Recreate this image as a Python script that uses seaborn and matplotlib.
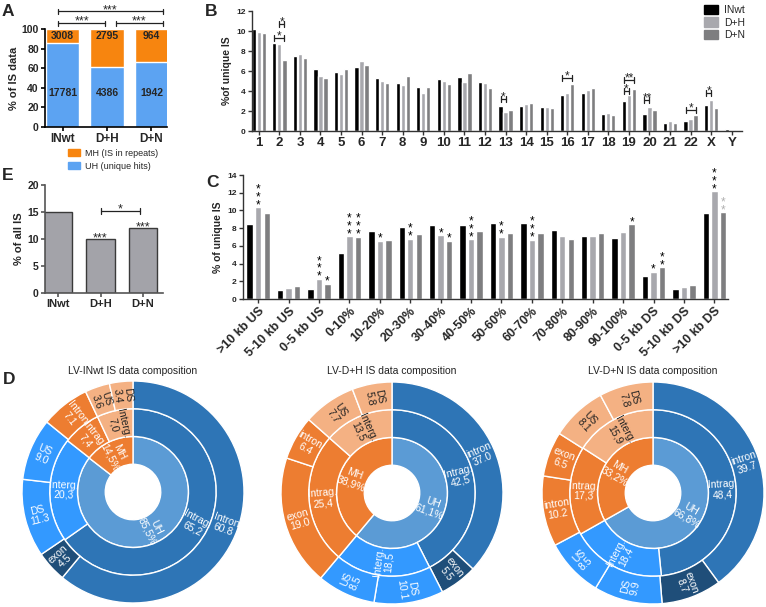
import numpy as np
import pandas as pd
import matplotlib
matplotlib.use("Agg")
import matplotlib.pyplot as plt
import seaborn as sns
from matplotlib.patches import Patch


# STYLE

sns.set_theme(style="ticks")
plt.rcParams["font.family"] = ["Liberation Sans", "DejaVu Sans"]

W, H = 766, 607

GROUPS = ["INwt", "D+H", "D+N"]
GROUP_COLORS = ["#000000", "#A8A8AD", "#7E7E80"]

ORANGE = "#F7850F"
BLUE = "#5CA3F2"

# sunburst colours
UH_INNER = "#5B9BD5"
UH_INTRAG = "#2E75B6"
UH_INTERG = "#3399FF"
UH_EXON = "#1F4E79"
MH_DARK = "#ED7D31"
MH_LIGHT = "#F4B183"


# DATA

# A: counts of IS per group
a_mh_counts = [3008, 2795, 964]
a_uh_counts = [17781, 4386, 1942]

# E: % of all IS
e_values = [15.0, 10.0, 12.0]

# B: chromosome distribution (% of unique IS)
chrom_labels = [str(i) for i in range(1, 23)] + ["X", "Y"]
b_inwt = [10.2, 8.85, 7.55, 6.2, 5.9, 6.45, 5.35, 4.85, 4.4, 5.2, 5.45, 4.9,
          2.5, 2.5, 2.4, 3.65, 3.8, 1.7, 3.0, 1.7, 0.8, 1.0, 2.6, 0.2]
b_dh = [9.9, 8.75, 7.7, 5.5, 5.7, 7.0, 5.0, 4.6, 3.85, 5.05, 4.9, 4.8,
        1.9, 2.75, 2.4, 3.8, 4.15, 1.8, 3.6, 2.4, 1.0, 1.25, 3.15, 0.1]
b_dn = [9.85, 7.1, 7.3, 5.35, 6.25, 6.6, 4.8, 5.55, 4.4, 4.7, 5.8, 4.3,
        2.1, 2.8, 2.3, 4.75, 4.3, 1.6, 4.25, 2.1, 0.85, 1.65, 2.3, 0.1]

# B significance brackets: (chrom index, bar a, bar b, y, label)
b_brackets = [
    (1, 0, 2, 9.3, "*"),
    (1, 1, 2, 10.7, "*"),
    (12, 0, 1, 3.2, "*"),
    (15, 0, 2, 5.3, "*"),
    (18, 0, 1, 4.0, "*"),
    (18, 0, 2, 5.1, "**"),
    (19, 0, 1, 3.1, "**"),
    (21, 0, 2, 2.1, "*"),
    (22, 0, 1, 3.85, "*"),
]

# C: gene-body position distribution
c_labels = [">10 kb US", "5-10 kb US", "0-5 kb US", "0-10%", "10-20%",
            "20-30%", "30-40%", "40-50%", "50-60%", "60-70%", "70-80%",
            "80-90%", "90-100%", "0-5 kb DS", "5-10 kb DS", ">10 kb DS"]
c_inwt = [8.47, 1.05, 1.12, 5.25, 7.72, 8.1, 8.32, 8.4, 8.55, 8.6, 7.8,
          7.09, 6.86, 2.55, 1.09, 9.67]
c_dh = [10.4, 1.24, 2.29, 7.12, 6.6, 6.82, 7.2, 6.75, 7.05, 6.7, 7.16,
        7.09, 7.6, 3.1, 1.35, 12.2]
c_dn = [9.67, 1.5, 1.72, 7.05, 6.7, 7.39, 6.6, 7.72, 7.42, 7.42, 6.75,
        7.42, 8.44, 3.6, 1.57, 9.82]

# C stars: (category index, bar index, number of stars, colour)
c_stars = [
    (0, 1, 3, "black"), (2, 1, 3, "black"), (2, 2, 1, "black"),
    (3, 1, 3, "black"), (3, 2, 3, "black"), (4, 1, 1, "black"),
    (5, 1, 2, "black"), (6, 1, 1, "black"), (6, 2, 1, "black"),
    (7, 1, 3, "black"), (8, 1, 2, "black"), (9, 1, 3, "black"),
    (12, 2, 1, "black"), (13, 1, 1, "black"), (13, 2, 2, "black"),
    (15, 1, 3, "black"), (15, 2, 2, "#B0B0B0"),
]

# D: sunburst composition
pie_titles = ["LV-INwt IS data composition",
              "LV-D+H IS data composition",
              "LV-D+N IS data composition"]
pie_centers = [(133, 492), (392, 493), (653, 493)]

inner_labels = ["UH", "MH"]
inner_values = [[85.5, 14.5], [61.1, 38.9], [66.8, 33.2]]

mid_labels = ["Intrag.", "Interg.", "Intrag.", "Interg."]
mid_sides = ["UH", "UH", "MH", "MH"]
mid_values = [[65.2, 20.3, 7.4, 7.0],
              [42.5, 18.5, 25.4, 13.5],
              [48.4, 18.4, 17.3, 15.9]]

outer_labels = [
    ["Intron", "exon", "DS", "US", "Intron", "US", "DS"],
    ["intron", "exon", "DS", "US", "exon", "intron", "US", "DS"],
    ["intron", "exon", "DS", "US", "intron", "exon", "US", "DS"],
]
outer_sides = [
    ["UH", "UH", "UH", "UH", "MH", "MH", "MH"],
    ["UH", "UH", "UH", "UH", "MH", "MH", "MH", "MH"],
    ["UH", "UH", "UH", "UH", "MH", "MH", "MH", "MH"],
]
outer_values = [
    [60.8, 4.5, 11.3, 9.0, 7.1, 3.6, 3.4],
    [37.0, 5.5, 10.1, 8.5, 19.0, 6.4, 7.7, 5.8],
    [39.7, 8.7, 9.9, 8.5, 10.2, 6.5, 8.1, 7.8],
]


# HELPERS

def px_axes(fig, x0, y0, x1, y1):
    return fig.add_axes([x0 / W, 1 - y1 / H, (x1 - x0) / W, (y1 - y0) / H])


def bracket(ax, x1, x2, y, label, cap, fontsize=8, lw=0.9):
    ax.plot([x1, x2], [y, y], color="#222222", lw=lw, clip_on=False)
    for x in (x1, x2):
        ax.plot([x, x], [y - cap, y + cap], color="#222222", lw=lw,
                clip_on=False)
    ax.annotate(label, xy=((x1 + x2) / 2, y), xytext=(0, -1.2),
                textcoords="offset points", ha="center", va="baseline",
                fontsize=fontsize, annotation_clip=False)


def style_axis(ax, color="black", lw=1.2):
    sns.despine(ax=ax)
    for side in ("left", "bottom"):
        ax.spines[side].set_color(color)
        ax.spines[side].set_linewidth(lw)
    ax.tick_params(axis="both", color=color, width=lw, length=3, pad=1.5)
    ax.set_xlabel("")


def grouped_frame(labels, series):
    rows = []
    for g, vals in zip(GROUPS, series):
        for lab, v in zip(labels, vals):
            rows.append({"cat": lab, "group": g, "pct": v})
    return pd.DataFrame(rows)


def side_color(side, label):
    if side == "UH":
        return {"Intrag.": UH_INTRAG, "Interg.": UH_INTERG,
                "intron": UH_INTRAG, "Intron": UH_INTRAG,
                "exon": UH_EXON, "DS": UH_INTERG, "US": UH_INTERG}[label]
    if label in ("Interg.", "US", "DS"):
        return MH_LIGHT
    return MH_DARK


def ring(ax, values, texts, colors, r_out, fontsize=7.5):
    ax.pie(values, radius=r_out, colors=colors, startangle=90,
           counterclock=False,
           wedgeprops=dict(width=0.25, edgecolor="white", linewidth=1))
    total = sum(values)
    r_mid = r_out - 0.125
    start = 0
    for v, txt, col in zip(values, texts, colors):
        frac = (start + v / 2) / total
        theta = 90 - 360 * frac
        x = r_mid * np.cos(np.radians(theta))
        y = r_mid * np.sin(np.radians(theta))
        rot = (theta + 180) % 360 - 180
        if rot > 90:
            rot -= 180
        elif rot < -90:
            rot += 180
        tcol = "#222222" if col == MH_LIGHT else "white"
        ax.text(x, y, txt, rotation=rot, rotation_mode="anchor",
                ha="center", va="center", multialignment="center",
                fontsize=fontsize, color=tcol, linespacing=1.0)
        start += v


fig = plt.figure(figsize=(W / 100, H / 100), dpi=100)


# A. STACKED MH / UH

axA = px_axes(fig, 45, 29, 167, 127)

uh_pct = [100 * u / (u + m) for u, m in zip(a_uh_counts, a_mh_counts)]
dfA = pd.DataFrame({"group": GROUPS, "total": [100.0] * 3, "uh": uh_pct})

sns.barplot(data=dfA, x="group", y="total", color=ORANGE, width=0.75,
            saturation=1, ax=axA)
sns.barplot(data=dfA, x="group", y="uh", color=BLUE, width=0.75,
            saturation=1, ax=axA)

for i, (mh, uh) in enumerate(zip(a_mh_counts, a_uh_counts)):
    axA.text(i, 93, str(mh), ha="center", va="center", fontsize=7.5,
             fontweight="bold")
    axA.text(i, 35, str(uh), ha="center", va="center", fontsize=7.5,
             fontweight="bold")

axA.set_xlim(-0.4, 2.35)
axA.set_ylim(0, 100)
axA.set_yticks(range(0, 101, 20))
axA.set_ylabel("% of IS data", fontsize=8, fontweight="bold", labelpad=2)
style_axis(axA)
for t in axA.get_yticklabels():
    t.set_fontsize(7.5)
    t.set_fontweight("bold")
for t in axA.get_xticklabels():
    t.set_fontsize(8.5)
    t.set_fontweight("bold")

bracket(axA, -0.1, 0.95, 106, "***", 2.5, fontsize=9)
bracket(axA, 1.2, 2.25, 106, "***", 2.5, fontsize=9)
bracket(axA, -0.1, 2.25, 118, "***", 2.5, fontsize=9)

axA.legend(handles=[Patch(color=ORANGE, label="MH (IS in repeats)"),
                    Patch(color=BLUE, label="UH (unique hits)")],
           loc="upper left", bbox_to_anchor=(64 / W, 1 - 145 / H),
           bbox_transform=fig.transFigure, frameon=False, fontsize=6.5,
           handlelength=1.4, handleheight=0.9, handletextpad=0.5,
           labelspacing=0.45, borderaxespad=0)


# E. % OF ALL IS

axE = px_axes(fig, 45, 185, 163, 293)

sns.barplot(x=GROUPS, y=e_values, color="#A3A3A9", edgecolor="#3A3A3A",
            linewidth=1.0, width=0.66, saturation=1, ax=axE)

axE.set_xlim(-0.306, 2.47)
axE.set_ylim(0, 20)
axE.set_yticks(range(0, 21, 5))
axE.set_ylabel("% of all IS", fontsize=8, fontweight="bold", labelpad=2)
style_axis(axE, color="#555555")
for t in axE.get_yticklabels():
    t.set_fontsize(7.5)
    t.set_fontweight("bold")
for t in axE.get_xticklabels():
    t.set_fontsize(8)
    t.set_fontweight("bold")

for i in (1, 2):
    axE.annotate("***", xy=(i, e_values[i]), xytext=(0, -1.5),
                 textcoords="offset points", ha="center", va="baseline",
                 fontsize=9, annotation_clip=False)
bracket(axE, 1.02, 1.92, 15.2, "*", 0.5, fontsize=9)


# B. CHROMOSOMES

axB = px_axes(fig, 252, 11, 742, 131)

dfB = grouped_frame(chrom_labels, [b_inwt, b_dh, b_dn])
sns.barplot(data=dfB, x="cat", y="pct", hue="group", order=chrom_labels,
            hue_order=GROUPS, palette=GROUP_COLORS, width=0.73, gap=0.14,
            saturation=1, legend=False, ax=axB)

axB.set_xlim(-0.33, 23.5)
axB.set_ylim(0, 12)
axB.set_yticks(range(0, 13, 2))
axB.set_ylabel("%of unique IS", fontsize=7.5, fontweight="bold", labelpad=3)
style_axis(axB, color="#333333", lw=1.0)
for t in axB.get_yticklabels():
    t.set_fontsize(6)
    t.set_fontweight("bold")
for t in axB.get_xticklabels():
    t.set_fontsize(9.5)
    t.set_fontweight("bold")

b_off = 0.73 / 3
for ci, ba, bb, y, lab in b_brackets:
    bracket(axB, ci + (ba - 1) * b_off, ci + (bb - 1) * b_off, y, lab, 0.3,
            fontsize=8.5)

fig.legend(handles=[Patch(color=c, label=g)
                    for c, g in zip(GROUP_COLORS, GROUPS)],
           loc="upper left", bbox_to_anchor=(700 / W, 1 - 1 / H),
           frameon=False, fontsize=7.5, handlelength=1.3, handleheight=1.0,
           handletextpad=0.6, labelspacing=0.2, borderaxespad=0)


# C. GENE BODY POSITION

axC = px_axes(fig, 243, 175, 728, 299)

dfC = grouped_frame(c_labels, [c_inwt, c_dh, c_dn])
sns.barplot(data=dfC, x="cat", y="pct", hue="group", order=c_labels,
            hue_order=GROUPS, palette=GROUP_COLORS, width=0.84, gap=0.25,
            saturation=1, legend=False, ax=axC)

axC.set_xlim(-0.5, 15.45)
axC.set_ylim(0, 14)
axC.set_yticks(range(0, 15, 2))
axC.set_ylabel("% of unique IS", fontsize=7.5, fontweight="bold",
               labelpad=3)
style_axis(axC, color="#333333", lw=1.0)
for t in axC.get_yticklabels():
    t.set_fontsize(6)
    t.set_fontweight("bold")
axC.set_xticks(range(len(c_labels)))
axC.set_xticklabels(c_labels, rotation=45, ha="right",
                    rotation_mode="anchor", fontsize=9, fontweight="bold")

c_series = [c_inwt, c_dh, c_dn]
c_off = 0.84 / 3
for ci, bi, n, col in c_stars:
    axC.annotate("\n".join(["*"] * n), xy=(ci + (bi - 1) * c_off,
                 c_series[bi][ci]), xytext=(0, -3),
                 textcoords="offset points", ha="center", va="bottom",
                 fontsize=8.5, color=col, linespacing=0.55,
                 annotation_clip=False)


# D. SUNBURSTS

R = 111
for k, (cx, cy) in enumerate(pie_centers):
    axD = px_axes(fig, cx - R, cy - R, cx + R, cy + R)

    inner_txt = [f"{lab}\n{v:.1f}".replace(".", ",") + "%"
                 for lab, v in zip(inner_labels, inner_values[k])]
    ring(axD, inner_values[k], inner_txt, [UH_INNER, MH_DARK], 0.5)

    mid_txt = [f"{lab}\n" + f"{v:.1f}".replace(".", ",")
               for lab, v in zip(mid_labels, mid_values[k])]
    mid_cols = [side_color(s, lab) for s, lab in zip(mid_sides, mid_labels)]
    ring(axD, mid_values[k], mid_txt, mid_cols, 0.75)

    out_txt = [f"{lab}\n{v:.1f}"
               for lab, v in zip(outer_labels[k], outer_values[k])]
    out_cols = [side_color(s, lab)
                for s, lab in zip(outer_sides[k], outer_labels[k])]
    ring(axD, outer_values[k], out_txt, out_cols, 1.0)

    axD.set_xlim(-1, 1)
    axD.set_ylim(-1, 1)
    fig.text(cx / W, 1 - 371 / H, pie_titles[k], ha="center", va="center",
             fontsize=7.5, color="#222222")


# PANEL LETTERS

for letter, (x, y) in {"A": (2, 12), "B": (205, 12), "C": (206, 183),
                       "E": (2, 176), "D": (3, 380)}.items():
    fig.text(x / W, 1 - y / H, letter, fontsize=12.5, fontweight="bold",
             ha="left", va="center")

fig.savefig("out.png", dpi=100)
